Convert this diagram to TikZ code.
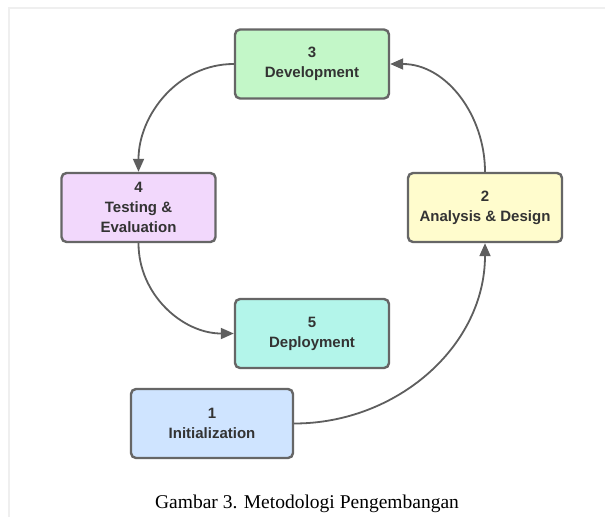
\documentclass[tikz,border=0pt]{standalone}
\usepackage{fontspec}
\setmainfont{Liberation Sans}
\newfontfamily\capfont{Liberation Serif}
\usetikzlibrary{arrows.meta}
\definecolor{bordc}{HTML}{666666}
\definecolor{txtc}{HTML}{333333}
\definecolor{linec}{HTML}{5E5E5E}
\definecolor{fgreen}{HTML}{C3F7C8}
\definecolor{fpink}{HTML}{F2D8FC}
\definecolor{fyellow}{HTML}{FFFCCD}
\definecolor{fcyan}{HTML}{B3F5EA}
\definecolor{fblue}{HTML}{CFE4FF}
\definecolor{framec}{HTML}{EFEFEF}
\tikzset{
  stepbox/.style={draw=bordc, line width=2.4pt, rounded corners=5pt,
    minimum width=154pt, minimum height=69pt, inner sep=0pt,
    align=center, text=txtc,
    font=\fontsize{15pt}{20pt}\selectfont\bfseries},
  conn/.style={draw=linec, line width=1.8pt,
    -{Triangle[length=13pt,width=11pt]}}
}
\begin{document}
\begin{tikzpicture}[x=1pt,y=-1pt]
\useasboundingbox (0,0) rectangle (605,517);
\fill[white] (0,0) rectangle (605,517);
\draw[framec, line width=1.5pt] (9,517) -- (9,8) -- (605,8);
\node[stepbox, fill=fgreen]  (n3) at (312,64)   {3\\Development};
\node[stepbox, fill=fpink]   (n4) at (138.5,207.5) {4\\Testing \&\\Evaluation};
\node[stepbox, fill=fyellow] (n2) at (485,207.5) {2\\Analysis \& Design};
\node[stepbox, fill=fcyan]   (n5) at (312,333.5) {5\\Deployment};
\node[stepbox, fill=fblue, minimum width=162pt] (n1) at (212,423.5) {1\\Initialization};
\draw[conn] (n2.north) to[out=90,in=0] (n3.east);
\draw[conn] (n3.west) to[out=180,in=90] (n4.north);
\draw[conn] (n4.south) to[out=-90,in=180] (n5.west);
\draw[conn] (n1.east) to[out=0,in=-90] (n2.south);
\node[font=\capfont\fontsize{19.5pt}{22pt}\selectfont, anchor=base] (cap) at (307,508) {Gambar 3. Metodologi Pengembangan};
\end{tikzpicture}
\end{document}
